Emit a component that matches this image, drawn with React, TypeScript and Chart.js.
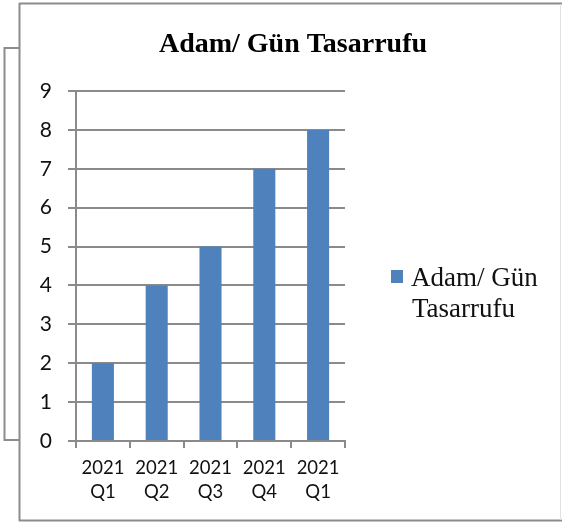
import React, { useEffect, useRef } from "react";
import { Chart, registerables } from "chart.js";

Chart.register(...registerables);

const TITLE = "Adam/ Gün Tasarrufu";
const SERIES_LABEL = "Adam/ Gün Tasarrufu";
const LEGEND_LINES = ["Adam/ Gün", "Tasarrufu"];
const YEARS = ["2021", "2021", "2021", "2021", "2021"];
const QUARTERS = ["Q1", "Q2", "Q3", "Q4", "Q1"];
const VALUES = [2, 4, 5, 7, 8];
const Y_MIN = 0;
const Y_MAX = 9;
const Y_STEP = 1;

const BAR_COLOR = "#4F81BD";
const GRID_COLOR = "#8a8a8a";

const decorPlugin = {
  id: "decor",
  beforeDraw(chart: any) {
    const ctx = chart.ctx;
    ctx.save();
    ctx.fillStyle = "#ffffff";
    ctx.fillRect(0, 0, chart.width, chart.height);
    // outer frame
    ctx.strokeStyle = "#8c8c8c";
    ctx.lineWidth = 2;
    ctx.beginPath();
    ctx.moveTo(19, 3.5);
    ctx.lineTo(562, 3.5);
    ctx.moveTo(19.5, 3);
    ctx.lineTo(19.5, 521);
    ctx.moveTo(19, 520.5);
    ctx.lineTo(562, 520.5);
    ctx.stroke();
    ctx.strokeStyle = "#e2e2e2";
    ctx.lineWidth = 1;
    ctx.beginPath();
    ctx.moveTo(560.5, 4);
    ctx.lineTo(560.5, 520);
    ctx.stroke();
    // left bracket
    ctx.strokeStyle = "#8c8c8c";
    ctx.lineWidth = 2;
    ctx.beginPath();
    ctx.moveTo(19, 48);
    ctx.lineTo(4.5, 48);
    ctx.lineTo(4.5, 440);
    ctx.lineTo(19, 440);
    ctx.stroke();
    ctx.restore();
  },
  afterDraw(chart: any) {
    const ctx = chart.ctx;
    ctx.save();
    // title
    ctx.fillStyle = "#000";
    ctx.font = "bold 28px 'Liberation Serif'";
    ctx.textAlign = "center";
    ctx.textBaseline = "alphabetic";
    ctx.fillText(TITLE, 293, 52);
    // legend
    const ds = chart.data.datasets[0];
    ctx.fillStyle = ds.backgroundColor;
    ctx.fillRect(391, 270, 12, 13);
    ctx.fillStyle = "#111";
    ctx.font = "27px 'Liberation Serif'";
    ctx.textAlign = "left";
    ctx.fillText(LEGEND_LINES[0], 411, 286);
    ctx.fillText(LEGEND_LINES[1], 412, 317);
    ctx.restore();
  },
};

export default function App() {
  const ref = useRef<HTMLCanvasElement | null>(null);
  useEffect(() => {
    if (!ref.current) return;
    const chart = new Chart(ref.current, {
      type: "bar",
      data: {
        labels: YEARS.map((y, i) => [y, QUARTERS[i]]),
        datasets: [
          {
            label: SERIES_LABEL,
            data: VALUES,
            backgroundColor: BAR_COLOR,
            borderWidth: 0,
            categoryPercentage: 1,
            barPercentage: 0.41,
          },
        ],
      },
      options: {
        responsive: false,
        animation: false,
        layout: { padding: { left: 0, right: 217, top: 91, bottom: 0 } },
        plugins: {
          legend: { display: false },
          title: { display: false },
          tooltip: { enabled: false },
        },
        scales: {
          x: {
            afterFit: (s: any) => {
              s.height = 83;
            },
            grid: {
              display: true,
              drawOnChartArea: false,
              drawTicks: true,
              tickLength: 7,
              color: GRID_COLOR,
              lineWidth: 2,
              offset: true,
            },
            border: { display: true, color: GRID_COLOR, width: 2 },
            ticks: {
              color: "#111",
              padding: 8,
              maxRotation: 0,
              autoSkip: false,
              font: { family: "Lato", size: 18.5, lineHeight: 1.3 },
            },
          },
          y: {
            min: Y_MIN,
            max: Y_MAX,
            afterFit: (s: any) => {
              s.width = 76;
            },
            grid: {
              color: GRID_COLOR,
              lineWidth: 2,
              drawTicks: true,
              tickLength: 8,
            },
            border: { display: true, color: GRID_COLOR, width: 2 },
            ticks: {
              stepSize: Y_STEP,
              color: "#111",
              padding: 16,
              font: { family: "Lato", size: 21 },
            },
          },
        },
      },
      plugins: [decorPlugin],
    });
    return () => chart.destroy();
  }, []);
  return (
    <div
      style={{
        position: "fixed",
        left: 0,
        top: 0,
        width: 562,
        height: 524,
        background: "#fff",
      }}
    >
      <canvas ref={ref} width={562} height={524} style={{ display: "block" }} />
    </div>
  );
}
